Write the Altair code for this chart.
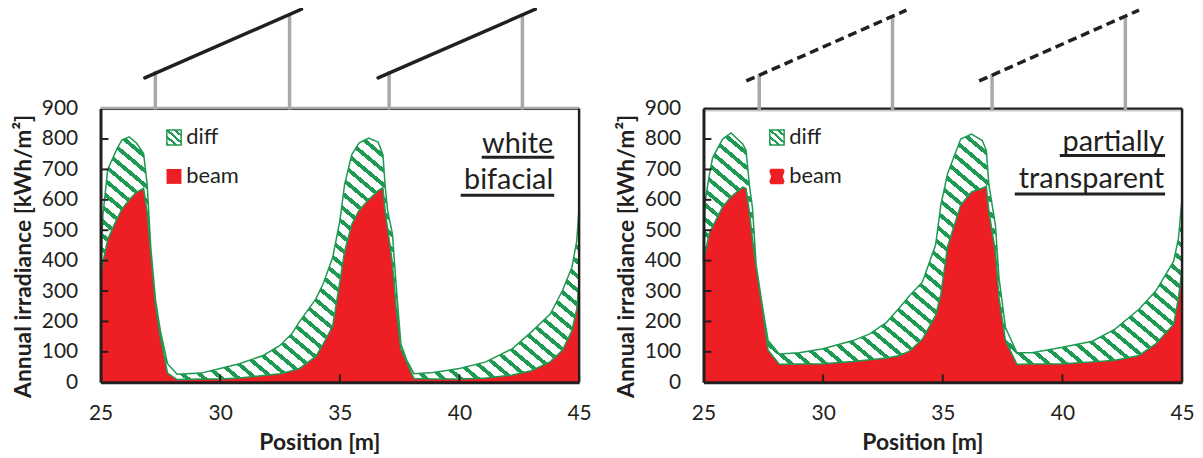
import math
import altair as alt
import pandas as pd

# ---------- data ----------
pos_a = [25,25.1,25.3,25.7,25.9,26.2,26.5,26.8,26.95,27.1,27.3,27.5,27.8,28.2,29.2,30,30.8,31.8,32.5,33,
         33.3,34,34.3,34.7,35,35.2,35.5,35.8,36.2,36.6,36.8,36.9,37,37.2,37.35,37.55,37.8,38.1,38.9,40,
         41.1,42.2,43,43.8,44.3,44.7,44.9,45]
total_a = [370,550,700,770,797,807,787,752,650,443,270,170,61,26,30,45,61,88,121,160,
           198,274,323,410,530,651,749,787,803,790,749,640,563,487,323,127,72,28,32,45,
           67,110,165,225,301,378,465,574]
beam_a = [340,395,470,540,570,600,625,638,560,430,255,150,30,9,11,11,14,22,28,38,
          45,85,125,185,330,430,520,565,600,630,640,560,505,390,250,110,65,12,11,11,
          14,24,38,68,105,170,240,334]

pos_b = [25,25.07,25.24,25.38,25.8,26.15,26.64,26.78,26.92,27.05,27.2,27.45,27.7,28.17,29,30,31.25,31.95,32.65,33.2,
         33.6,34.15,34.7,34.92,35.2,35.75,36.2,36.65,36.82,36.93,37.2,37.35,37.62,38.1,38.73,40,41.25,42.2,43.2,43.9,
         44.65,44.85,45]
total_b = [460,594,680,738,800,820,784,762,648,572,387,257,137,93,97,110,137,159,197,246,
           284,330,452,583,686,800,816,795,762,648,517,343,180,97,97,115,135,175,240,300,
           398,474,604]
beam_b = [400,425,490,512,577,610,642,637,560,470,380,250,105,59,60,61,68,74,80,88,
          102,142,220,290,447,583,626,638,645,561,430,278,137,59,60,61,67,72,88,126,
          191,278,376]

x_ticks = [30, 35, 40, 45]
y_ticks = [100, 200, 300, 400, 500, 600, 700, 800]
x_labels = [25, 30, 35, 40, 45]
y_labels = [0, 100, 200, 300, 400, 500, 600, 700, 800, 900]

posts_a = [(27.29, 1024), (32.9, 1214), (37.06, 1024), (42.63, 1214)]
posts_b = [(27.33, 1014), (32.9, 1207), (37.06, 1014), (42.63, 1207)]
modules_a = [(26.85, 1001, 33.4, 1227), (36.6, 1001, 43.17, 1227)]
modules_b = [(26.79, 991, 33.48, 1224), (36.52, 991, 43.2, 1224)]

lines_a = [[43.92, 753, "white"], [43.92, 635, "bifacial"]]
lines_b = [[44.25, 759, "partially"], [44.25, 638, "transparent"]]
under_a = [(40.93, 740, 43.96), (40.05, 615, 43.96)]
under_b = [(39.89, 746, 44.29), (38.01, 619, 44.29)]

RED = "#ed1f24"
GREEN = "#1f9a52"
INK = "#231f20"
GRAY = "#a7a9ac"
FONT = "Lato"
W, H = 481, 275


def hatch(w, h, period=11.0, ink=0.36, angle=40):
    th = math.radians(angle)
    a, b = math.sin(th) / h, math.cos(th) / w
    s = (a + b) / (a * a + b * b)
    n = max(1, round((w * math.sin(th) + h * math.cos(th)) / period))
    stops = []
    for i in range(n):
        t0 = i / n
        t1 = (i + ink) / n
        t2 = (i + 1) / n
        stops += [
            alt.GradientStop(offset=t0, color=GREEN),
            alt.GradientStop(offset=t1, color=GREEN),
            alt.GradientStop(offset=t1, color="white"),
            alt.GradientStop(offset=t2, color="white"),
        ]
    return alt.LinearGradient(gradient="linear", stops=stops, x1=0, y1=1, x2=s * a, y2=1 - s * b)


blob = "M -0.8 -1 L 0.8 -1 L 1 -0.7 L 0.75 0 L 1 0.7 L 0.8 1 L -0.8 1 L -1 0.7 L -0.75 0 L -1 -0.7 Z"


def panel(pos, total, beam, posts, modules, lines, under, dashed, right_panel):
    xs = alt.Scale(domain=[25, 45], nice=False, zero=False)
    ys = alt.Scale(domain=[0, 900], nice=False, zero=False)
    xaxis = alt.Axis(values=x_labels, title="Position [m]", format="d", grid=False, tickSize=0,
                     labelFont=FONT, labelFontSize=21, labelColor=INK, labelPadding=20,
                     titleFont=FONT, titleFontSize=23, titleFontWeight="bold", titleColor=INK, titlePadding=9,
                     titleX=220,
                     domainColor=INK, domainWidth=3, zindex=1, labelFlush=False, labelOverlap=False)
    yaxis = alt.Axis(values=y_labels, title="Annual irradiance [kWh/m²]", format="d", grid=False, tickSize=0,
                     labelFont=FONT, labelFontSize=21, labelColor=INK, labelPadding=23,
                     titleFont=FONT, titleFontSize=23, titleFontWeight="bold", titleColor=INK, titlePadding=6,
                     titleY=148,
                     domainColor=INK, domainWidth=3, zindex=1, labelOverlap=False)
    X = alt.X("x:Q", scale=xs, axis=xaxis)
    Y = alt.Y("y:Q", scale=ys, axis=yaxis)

    df = pd.DataFrame({"x": pos, "y": total, "y2": beam, "b": beam})
    span = (max(total) - min(beam)) * H / 900
    beam_area = alt.Chart(df[["x", "b"]].rename(columns={"b": "y"})).mark_area(color=RED).encode(x=X, y=Y)
    diff_area = alt.Chart(df).mark_area(fill=hatch(W, span), stroke=GREEN, strokeWidth=1.5).encode(
        x=X, y=Y, y2=alt.Y2("y2:Q"))

    def segs(rows, **kw):
        d = pd.DataFrame(rows, columns=["x", "y", "x2", "y2"])
        return alt.Chart(d).mark_rule(**kw).encode(x=X, y=Y, x2=alt.X2("x2:Q"), y2=alt.Y2("y2:Q"))

    ticks = segs([(t, 0, t, 26) for t in x_ticks] + [(25, t, 25.33, t) for t in y_ticks],
                 color=INK, strokeWidth=2)
    if right_panel:
        top = segs([(25, 900, 45, 900)], color=INK, strokeWidth=2.5)
        top2 = segs([(25, 893, 45, 893)], color="#c9cacc", strokeWidth=1.5)
    else:
        top = segs([(25, 902, 45, 902)], color=GRAY, strokeWidth=2.5)
        top2 = segs([(25, 897, 45, 897)], color=INK, strokeWidth=1)
    side = segs([(45, 0, 45, 900)], color=INK, strokeWidth=2.5)
    base_y = 893 if right_panel else 897
    post_rules = segs([(x, base_y, x, y) for x, y in posts], color=GRAY, strokeWidth=3.5)
    mod_kw = dict(color=INK, strokeWidth=3.5, strokeCap="round" if not dashed else "butt")
    if dashed:
        mod_kw["strokeDash"] = [9, 5]
    mods = segs(modules, **mod_kw)

    swatch = alt.Chart(pd.DataFrame({"x": [27.77], "x2": [28.37], "y": [780], "y2": [830]})).mark_rect(
        fill=hatch(15, 15, period=6, ink=0.4), stroke=GREEN, strokeWidth=1.5
    ).encode(x=X, y=Y, x2=alt.X2("x2:Q"), y2=alt.Y2("y2:Q"))
    red_kw = dict(shape=blob, size=240) if right_panel else dict(shape="square", size=225)
    red = alt.Chart(pd.DataFrame({"x": [28.07], "y": [677]})).mark_point(
        filled=True, color=RED, opacity=1, **red_kw).encode(x=X, y=Y)
    leg = alt.Chart(pd.DataFrame({"x": [28.58, 28.58], "y": [805, 677], "t": ["diff", "beam"]})).mark_text(
        font=FONT, fontSize=22, color=INK, align="left", baseline="middle").encode(x=X, y=Y, text="t:N")

    lab = pd.DataFrame(lines, columns=["x", "y", "t"])
    labels = alt.Chart(lab).mark_text(font=FONT, fontSize=29, color=INK, align="right", baseline="alphabetic").encode(
        x=X, y=Y, text="t:N")
    unders = segs([(u[0], u[1], u[2], u[1]) for u in under], color=INK, strokeWidth=3)

    return alt.layer(beam_area, diff_area, ticks, top2, top, side, post_rules, mods, swatch, red, leg, labels, unders
                     ).properties(width=W, height=H)


left = panel(pos_a, total_a, beam_a, posts_a, modules_a, lines_a, under_a, False, False)
right = panel(pos_b, total_b, beam_b, posts_b, modules_b, lines_b, under_b, True, True)

chart = alt.hconcat(left, right, spacing=23).properties(
    padding={"left": 4, "top": -2, "right": 0, "bottom": 0}
).configure_view(stroke=None)

chart.save("out.html", embed_options={"renderer": "svg", "actions": False})
